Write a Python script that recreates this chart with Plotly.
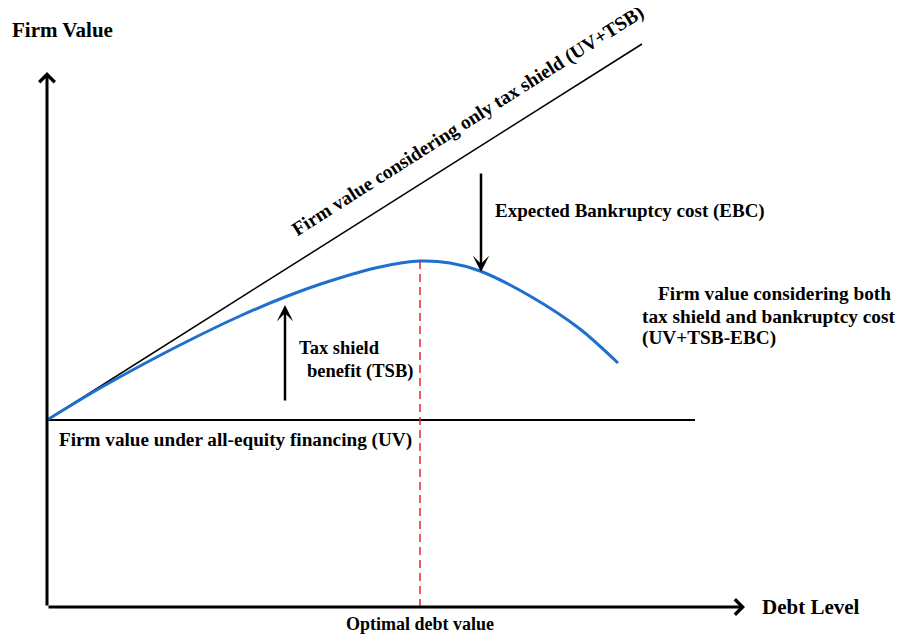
import plotly.graph_objects as go

# Conceptual data (debt level vs firm value), units chosen to match the diagram
debt_curve = [0, 48, 93, 143, 193, 238, 283, 333, 373, 403, 433, 483, 533, 571]
value_curve = [187, 216, 241, 267, 291, 310, 326, 340, 346, 344, 336, 311, 278, 244]

uv_value = 187
uv_debt = [0, 648]
tsb_debt = [0, 595]
tsb_value = [187, 563]

optimal_debt = 373
optimal_value = 346

tsb_arrow = dict(x=238, y_from=205, y_to=302)
ebc_arrow = dict(x=434, y_from=435, y_to=335)

axis_x_end = 698
axis_y_end = 535

FONT = "Liberation Serif"

fig = go.Figure()

# UV horizontal line
fig.add_trace(go.Scatter(x=uv_debt, y=[uv_value, uv_value], mode="lines",
                         line=dict(color="black", width=2), hoverinfo="skip"))
# UV + TSB straight line
fig.add_trace(go.Scatter(x=tsb_debt, y=tsb_value, mode="lines",
                         line=dict(color="black", width=1.5), hoverinfo="skip"))
# UV + TSB - EBC curve
fig.add_trace(go.Scatter(x=debt_curve, y=value_curve, mode="lines",
                         line=dict(color="#1f6fcf", width=3, shape="spline", smoothing=0.8),
                         hoverinfo="skip"))
# Optimal debt dashed line
fig.add_trace(go.Scatter(x=[optimal_debt, optimal_debt], y=[0, optimal_value], mode="lines",
                         line=dict(color="#e8232e", width=1.5, dash="8px,5px"), hoverinfo="skip"))

ann = []
# axes with arrows
ann.append(dict(x=0, y=axis_y_end, ax=0, ay=0, xref="x", yref="y", axref="x", ayref="y",
                text="", showarrow=True, arrowhead=4, arrowsize=1, arrowwidth=3,
                arrowcolor="black", standoff=0))
ann.append(dict(x=axis_x_end, y=0, ax=0, ay=0, xref="x", yref="y", axref="x", ayref="y",
                text="", showarrow=True, arrowhead=4, arrowsize=1, arrowwidth=3,
                arrowcolor="black", standoff=0))
# TSB / EBC arrows
ann.append(dict(x=tsb_arrow["x"], y=tsb_arrow["y_to"], ax=tsb_arrow["x"], ay=tsb_arrow["y_from"],
                xref="x", yref="y", axref="x", ayref="y", text="", showarrow=True,
                arrowhead=3, arrowsize=1.1, arrowwidth=2.5, arrowcolor="black", standoff=0))
ann.append(dict(x=ebc_arrow["x"], y=ebc_arrow["y_to"], ax=ebc_arrow["x"], ay=ebc_arrow["y_from"],
                xref="x", yref="y", axref="x", ayref="y", text="", showarrow=True,
                arrowhead=3, arrowsize=1.1, arrowwidth=2.5, arrowcolor="black", standoff=0))


def label(text, x, y, size=16, xanchor="left", angle=0):
    ann.append(dict(x=x, y=y, xref="x", yref="y", text="<b>" + text + "</b>", showarrow=False,
                    xanchor=xanchor, yanchor="middle", textangle=angle,
                    font=dict(family=FONT, size=size, color="black")))


label("Firm Value", -37, 577, size=21)
label("Firm value considering only tax shield (UV+TSB)", 421, 486, size=19.5, xanchor="center", angle=-32.4)
label("Expected Bankruptcy cost (EBC)", 446, 396, size=19)
label("Tax shield", 250, 259, size=18.5)
label("benefit (TSB)", 258, 236, size=18.5)
label("Firm value considering both", 727, 314, size=19.3, xanchor="center")
label("tax shield and bankruptcy cost", 593, 291, size=19.3)
label("(UV+TSB-EBC)", 593, 269, size=19.3)
label("Firm value under all-equity financing (UV)", 10, 167, size=19.2)
label("Debt Level", 713, 0, size=21)
label("Optimal debt value", optimal_debt, -17, size=18, xanchor="center")

# page body has an 8px margin: figure is 888x628 so that it fits the 904x644 window
fig.update_layout(
    width=888, height=628,
    margin=dict(l=0, r=0, t=0, b=0),
    paper_bgcolor="white", plot_bgcolor="white",
    showlegend=False,
    xaxis=dict(range=[-39, 849], visible=False, fixedrange=True),
    yaxis=dict(range=[-29, 599], visible=False, fixedrange=True),
    annotations=ann,
)

fig.write_html("out.html")
